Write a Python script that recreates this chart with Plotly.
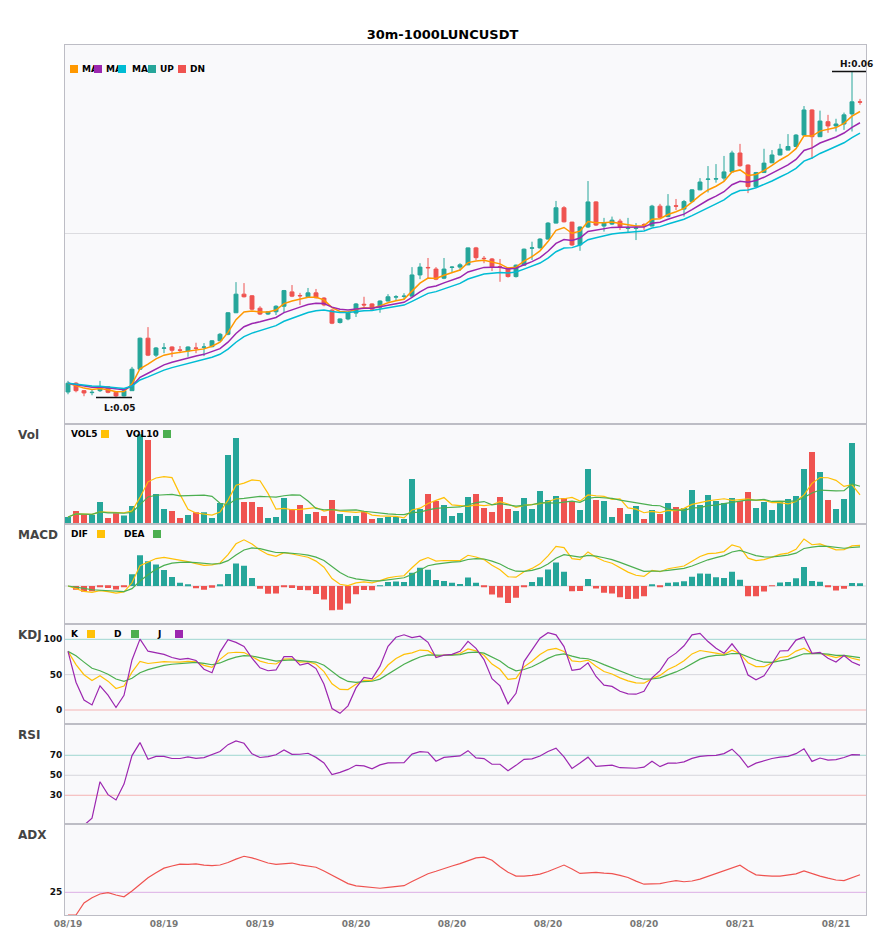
import numpy as np
import pandas as pd
import plotly.graph_objects as go
from plotly.subplots import make_subplots

TITLE = "30m-1000LUNCUSDT"

opens = [0.05515, 0.05542, 0.05519, 0.05513, 0.05519, 0.05531, 0.05514, 0.05503, 0.05519, 0.05585,
         0.05680, 0.05628, 0.05649, 0.05653, 0.05644, 0.05641, 0.05650, 0.05652, 0.05654, 0.05672,
         0.05692, 0.05758, 0.05815, 0.05810, 0.05772, 0.05754, 0.05761, 0.05778, 0.05822, 0.05811,
         0.05807, 0.05819, 0.05803, 0.05766, 0.05728, 0.05739, 0.05757, 0.05784, 0.05785, 0.05775,
         0.05794, 0.05806, 0.05808, 0.05809, 0.05874, 0.05897, 0.05892, 0.05864, 0.05897, 0.05898,
         0.05905, 0.05957, 0.05925, 0.05923, 0.05900, 0.05895, 0.05869, 0.05904, 0.05956, 0.05957,
         0.05984, 0.06033, 0.06080, 0.06036, 0.05966, 0.06021, 0.06098, 0.06024, 0.06030, 0.06039,
         0.06017, 0.06017, 0.06028, 0.06024, 0.06085, 0.06053, 0.06086, 0.06076, 0.06099, 0.06135,
         0.06167, 0.06168, 0.06171, 0.06190, 0.06248, 0.06211, 0.06145, 0.06188, 0.06218, 0.06242,
         0.06257, 0.06268, 0.06303, 0.06380, 0.06298, 0.06344, 0.06331, 0.06337, 0.06368, 0.06405]

highs = [0.05549, 0.05545, 0.05521, 0.05524, 0.05549, 0.05533, 0.05516, 0.05521, 0.05592, 0.05682,
         0.05714, 0.05653, 0.05665, 0.05655, 0.05656, 0.05655, 0.05666, 0.05665, 0.05674, 0.05696,
         0.05760, 0.05852, 0.05849, 0.05812, 0.05778, 0.05763, 0.05781, 0.05828, 0.05843, 0.05819,
         0.05834, 0.05831, 0.05806, 0.05769, 0.05741, 0.05759, 0.05788, 0.05807, 0.05787, 0.05796,
         0.05815, 0.05812, 0.05818, 0.05898, 0.05910, 0.05926, 0.05898, 0.05926, 0.05901, 0.05910,
         0.05958, 0.05960, 0.05932, 0.05926, 0.05923, 0.05896, 0.05906, 0.05955, 0.05976, 0.05987,
         0.06036, 0.06101, 0.06085, 0.06037, 0.06023, 0.06162, 0.06100, 0.06049, 0.06053, 0.06046,
         0.06049, 0.06033, 0.06033, 0.06089, 0.06092, 0.06122, 0.06107, 0.06104, 0.06137, 0.06171,
         0.06208, 0.06214, 0.06239, 0.06255, 0.06276, 0.06213, 0.06190, 0.06261, 0.06257, 0.06276,
         0.06306, 0.06306, 0.06392, 0.06382, 0.06378, 0.06365, 0.06353, 0.06372, 0.06498, 0.06414]

lows = [0.05508, 0.05514, 0.05502, 0.05505, 0.05515, 0.05511, 0.05498, 0.05501, 0.05518, 0.05584,
        0.05625, 0.05622, 0.05634, 0.05622, 0.05634, 0.05623, 0.05634, 0.05625, 0.05652, 0.05671,
        0.05689, 0.05757, 0.05805, 0.05766, 0.05751, 0.05751, 0.05751, 0.05757, 0.05806, 0.05782,
        0.05805, 0.05802, 0.05778, 0.05723, 0.05725, 0.05735, 0.05745, 0.05772, 0.05766, 0.05758,
        0.05793, 0.05795, 0.05797, 0.05808, 0.05861, 0.05864, 0.05858, 0.05861, 0.05880, 0.05886,
        0.05904, 0.05920, 0.05910, 0.05886, 0.05853, 0.05866, 0.05866, 0.05903, 0.05920, 0.05955,
        0.05983, 0.06032, 0.06035, 0.05963, 0.05948, 0.06018, 0.06024, 0.06007, 0.06027, 0.06012,
        0.06003, 0.05981, 0.06012, 0.06023, 0.06048, 0.06051, 0.06073, 0.06053, 0.06098, 0.06134,
        0.06127, 0.06157, 0.06163, 0.06189, 0.06206, 0.06125, 0.06141, 0.06187, 0.06217, 0.06241,
        0.06256, 0.06267, 0.06302, 0.06230, 0.06297, 0.06310, 0.06314, 0.06319, 0.06314, 0.06396]

closes = [0.05542, 0.05519, 0.05512, 0.05514, 0.05531, 0.05514, 0.05503, 0.05519, 0.05585, 0.05680,
          0.05628, 0.05650, 0.05650, 0.05643, 0.05643, 0.05653, 0.05649, 0.05653, 0.05672, 0.05692,
          0.05758, 0.05815, 0.05807, 0.05769, 0.05754, 0.05761, 0.05778, 0.05826, 0.05809, 0.05810,
          0.05819, 0.05804, 0.05782, 0.05726, 0.05739, 0.05757, 0.05785, 0.05782, 0.05769, 0.05794,
          0.05807, 0.05807, 0.05809, 0.05874, 0.05898, 0.05896, 0.05861, 0.05892, 0.05898, 0.05905,
          0.05957, 0.05927, 0.05924, 0.05899, 0.05899, 0.05869, 0.05904, 0.05953, 0.05957, 0.05984,
          0.06033, 0.06080, 0.06037, 0.05966, 0.06021, 0.06098, 0.06027, 0.06033, 0.06042, 0.06022,
          0.06018, 0.06018, 0.06027, 0.06085, 0.06050, 0.06085, 0.06085, 0.06099, 0.06135, 0.06159,
          0.06168, 0.06169, 0.06190, 0.06248, 0.06209, 0.06145, 0.06188, 0.06217, 0.06242, 0.06260,
          0.06268, 0.06303, 0.06380, 0.06298, 0.06346, 0.06331, 0.06337, 0.06365, 0.06405, 0.06404]

volumes = [2.2, 4.0, 3.0, 2.8, 6.7, 1.9, 3.3, 2.6, 5.5, 27.0,
           25.3, 9.1, 4.6, 4.0, 1.9, 2.8, 3.6, 3.6, 1.9, 6.4,
           20.8, 25.9, 6.7, 6.7, 5.2, 1.9, 2.2, 7.9, 4.6, 5.8,
           3.1, 3.7, 2.5, 7.3, 3.1, 2.5, 2.5, 4.0, 1.6, 1.9,
           2.2, 2.2, 1.6, 13.6, 4.6, 9.1, 7.0, 5.8, 2.5, 3.4,
           8.2, 9.1, 4.9, 3.7, 8.2, 4.6, 4.0, 7.9, 4.6, 10.0,
           7.3, 8.5, 7.9, 6.7, 4.3, 16.6, 7.3, 7.0, 2.2, 4.9,
           3.1, 5.5, 1.6, 4.3, 3.1, 6.4, 5.2, 4.9, 10.3, 5.8,
           8.8, 7.0, 6.4, 7.9, 7.0, 9.7, 4.9, 6.7, 4.3, 7.0,
           7.6, 8.5, 16.6, 21.7, 15.7, 7.3, 4.6, 7.6, 24.4, 0.1]

tick_pos = [0, 12, 24, 36, 48, 60, 72, 84, 96]
tick_text = ["08/19", "08/19", "08/19", "08/20", "08/20", "08/20", "08/20", "08/21", "08/21"]

ma_periods = [5, 10, 15]

# ---------------- styles ----------------
UP = "#26a69a"
DN = "#ef5350"
MA_COLORS = ["#ff9800", "#9c27b0", "#00bcd4"]
YEL = "#ffc107"
GRN = "#4caf50"
PUR = "#9c27b0"
FONT = "DejaVu Sans"
BORDER = "#bdbdc5"
BG = "#f9f9fb"

# ---------------- indicators (derived from the OHLCV lists) ----------------
df = pd.DataFrame({"o": opens, "h": highs, "l": lows, "c": closes, "v": volumes})
x = list(range(len(df)))
c = df["c"]
mas = [c.ewm(span=n, adjust=False).mean() for n in ma_periods]
vol5 = df["v"].rolling(5, min_periods=1).mean()
vol10 = df["v"].rolling(10, min_periods=1).mean()

dif = c.ewm(span=6, adjust=False).mean() - c.ewm(span=13, adjust=False).mean()
dea = dif.ewm(span=5, adjust=False).mean()
hist = 2 * (dif - dea)

llv = df["l"].rolling(9, min_periods=1).min()
hhv = df["h"].rolling(9, min_periods=1).max()
rsv = ((c - llv) / (hhv - llv) * 100).fillna(50)
k = rsv.ewm(com=2, adjust=False).mean()
d = k.ewm(com=2, adjust=False).mean()
j = 3 * k - 2 * d

delta = c.diff().fillna(0)
ag = delta.clip(lower=0).ewm(alpha=1 / 14, adjust=False).mean()
al = (-delta).clip(lower=0).ewm(alpha=1 / 14, adjust=False).mean()
rsi = (100 * ag / (ag + al)).fillna(0)

pc = c.shift(1)
tr = pd.concat([df["h"] - df["l"], (df["h"] - pc).abs(), (df["l"] - pc).abs()], axis=1).max(axis=1)
upm = df["h"].diff()
dnm = -df["l"].diff()
pdm = pd.Series(np.where((upm > dnm) & (upm > 0), upm, 0.0))
mdm = pd.Series(np.where((dnm > upm) & (dnm > 0), dnm, 0.0))
atr = tr.ewm(span=14, adjust=False).mean()
pdi = 100 * pdm.ewm(span=14, adjust=False).mean() / atr
mdi = 100 * mdm.ewm(span=14, adjust=False).mean() / atr
dx = (100 * (pdi - mdi).abs() / (pdi + mdi)).fillna(0)
adx = dx.ewm(span=14, adjust=False).mean()

bar_colors = [UP if cc >= oo else DN for oo, cc in zip(opens, closes)]
hist_colors = [UP if hv >= 0 else DN for hv in hist]

# ---------------- figure ----------------
fig = make_subplots(rows=6, cols=1, shared_xaxes=True, vertical_spacing=0)

fig.add_trace(go.Candlestick(x=x, open=opens, high=highs, low=lows, close=closes,
                             increasing=dict(line=dict(color=UP, width=1), fillcolor=UP),
                             decreasing=dict(line=dict(color=DN, width=1), fillcolor=DN),
                             showlegend=False), row=1, col=1)
for s, col in zip(mas, MA_COLORS):
    fig.add_trace(go.Scatter(x=x, y=s, mode="lines", line=dict(color=col, width=1.5),
                             showlegend=False), row=1, col=1)

fig.add_trace(go.Bar(x=x, y=volumes, marker=dict(color=bar_colors, line=dict(width=0)),
                     width=0.75, showlegend=False), row=2, col=1)
fig.add_trace(go.Scatter(x=x, y=vol5, mode="lines", line=dict(color=YEL, width=1.2), showlegend=False), row=2, col=1)
fig.add_trace(go.Scatter(x=x, y=vol10, mode="lines", line=dict(color=GRN, width=1.2), showlegend=False), row=2, col=1)

fig.add_trace(go.Bar(x=x, y=hist, marker=dict(color=hist_colors, line=dict(width=0)),
                     width=0.75, showlegend=False), row=3, col=1)
fig.add_trace(go.Scatter(x=x, y=dif, mode="lines", line=dict(color=YEL, width=1.2), showlegend=False), row=3, col=1)
fig.add_trace(go.Scatter(x=x, y=dea, mode="lines", line=dict(color=GRN, width=1.2), showlegend=False), row=3, col=1)

fig.add_trace(go.Scatter(x=x, y=k, mode="lines", line=dict(color=YEL, width=1.2), showlegend=False), row=4, col=1)
fig.add_trace(go.Scatter(x=x, y=d, mode="lines", line=dict(color=GRN, width=1.2), showlegend=False), row=4, col=1)
fig.add_trace(go.Scatter(x=x, y=j, mode="lines", line=dict(color=PUR, width=1.2), showlegend=False), row=4, col=1)

fig.add_trace(go.Scatter(x=x, y=rsi, mode="lines", line=dict(color=PUR, width=1.2), showlegend=False), row=5, col=1)
fig.add_trace(go.Scatter(x=x, y=adx, mode="lines", line=dict(color=DN, width=1.2), showlegend=False), row=6, col=1)

# reference lines
for row, yv, col in [(3, 0, "#d6d6dc"),
                     (4, 100, "#9fd6d0"), (4, 50, "#d6d6dc"), (4, 0, "#f5b3b3"),
                     (5, 70, "#9fd6d0"), (5, 50, "#d6d6dc"), (5, 30, "#f5b3b3"),
                     (6, 25, "#dcaee4")]:
    fig.add_hline(y=yv, line=dict(color=col, width=1), layer="below", row=row, col=1)

# ---------------- axes ----------------
XR = [-0.375, 99.75]
domains = [[0.5640, 1.0], [0.4491, 0.5640], [0.3341, 0.4491],
           [0.2192, 0.3341], [0.1043, 0.2192], [0.0, 0.1043]]
m = float(dif.max())
yranges = [[0.054158, 0.065793], [0, max(volumes) / 0.9], [-0.815 * m, 1.313 * m],
           [-20.2, 121.2], [1, 101], [0, 100]]
tickvals = [None, None, None, [0, 50, 100], [30, 50, 70], [25]]

for r in range(1, 7):
    sfx = "" if r == 1 else str(r)
    fig.layout["xaxis" + sfx].update(range=XR, showline=True, mirror=True, linecolor=BORDER,
                                     linewidth=1, showgrid=False, zeroline=False, ticks="",
                                     showticklabels=(r == 6))
    ya = dict(domain=domains[r - 1], range=yranges[r - 1], showline=True, mirror=True,
              linecolor=BORDER, linewidth=1, showgrid=False, zeroline=False, ticks="",
              showticklabels=False, fixedrange=True)
    if tickvals[r - 1] is not None:
        ya.update(tickmode="array", tickvals=tickvals[r - 1],
                  ticktext=[str(t) for t in tickvals[r - 1]], showticklabels=True,
                  tickfont=dict(family=FONT, size=9, color="#111", weight="bold"))
    if r == 1:
        ya.update(showgrid=True, gridcolor="#dcdce0", gridwidth=1, dtick=0.01, tick0=0)
    fig.layout["yaxis" + sfx].update(**ya)

fig.layout.xaxis.rangeslider.visible = False
fig.layout.xaxis6.update(tickmode="array", tickvals=tick_pos, ticktext=tick_text,
                         tickfont=dict(family=FONT, size=9, color="#777", weight="bold"))

# the page body adds an 8px margin, so the figure is 8px smaller than the window
W, H = 877, 942
fig.update_layout(width=W, height=H, margin=dict(l=57, r=19, t=37, b=35),
                  paper_bgcolor="white", plot_bgcolor=BG, showlegend=False,
                  font=dict(family=FONT, size=9, color="#000"),
                  title=dict(text=TITLE, x=0.5 * 885 / W - 8 / W, xanchor="center",
                             y=1 - 26 / H, yanchor="middle",
                             font=dict(family=FONT, size=13, color="#000", weight="bold")))

# ---------------- decorations (pixel helpers, window coordinates) ----------------
def px_x(v):
    return (v - 65) / 801


def px_y(v):
    return (915 - v) / 870


def text(t, xp, yp, size=9, color="#000", anchor="left"):
    fig.add_annotation(text=t, x=px_x(xp), y=px_y(yp), xref="paper", yref="paper",
                       xanchor=anchor, yanchor="middle", showarrow=False, borderpad=0,
                       font=dict(family=FONT, size=size, color=color, weight="bold"))


def square(color, xp, yp, size=8):
    fig.add_annotation(text=" ", x=px_x(xp), y=px_y(yp), xref="paper", yref="paper",
                       xanchor="left", yanchor="middle", showarrow=False, width=size,
                       height=size, bgcolor=color, borderpad=0, borderwidth=0,
                       font=dict(size=1))


# main legend
legend_main = [("MA", MA_COLORS[0], 70, 81), ("MA", MA_COLORS[1], 94, 105),
               ("MA", MA_COLORS[2], 118, 131), ("UP", UP, 148, 159), ("DN", DN, 178, 189)]
for lbl, col, sx, tx in legend_main:
    text(lbl, tx, 69)
for lbl, col, sx, tx in legend_main:
    square(col, sx, 69)

# sub-panel legends
for items, yp in [([("VOL5", 70, YEL, 101), ("VOL10", 125, GRN, 163)], 434),
                  ([("DIF", 70, YEL, 97), ("DEA", 123, GRN, 153)], 534),
                  ([("K", 70, YEL, 87), ("D", 113, GRN, 131), ("J", 156, PUR, 175)], 634)]:
    for lbl, tx, col, sx in items:
        text(lbl, tx, yp)
        square(col, sx, yp)

# panel names
for name, yp in [("Vol", 435), ("MACD", 535), ("KDJ", 635), ("RSI", 735), ("ADX", 835)]:
    text(name, 17, yp, size=12, color="#444")

# high / low markers
i_hi = int(np.argmax(highs))
i_lo = int(np.argmin(lows))
for idx, val, shift, lab in [(i_hi, highs[i_hi], 8, "H"), (i_lo, lows[i_lo], -10, "L")]:
    fig.add_shape(type="line", x0=idx - 2.5, x1=idx + 2.0, y0=val, y1=val, xref="x", yref="y",
                  line=dict(color="#111", width=1.5))
    fig.add_annotation(x=idx + 0.5, y=val, xref="x", yref="y", text=f"{lab}:{val:.2f}",
                       yshift=shift, showarrow=False,
                       font=dict(family=FONT, size=9, color="#111", weight="bold"))

fig.write_html("out.html")
